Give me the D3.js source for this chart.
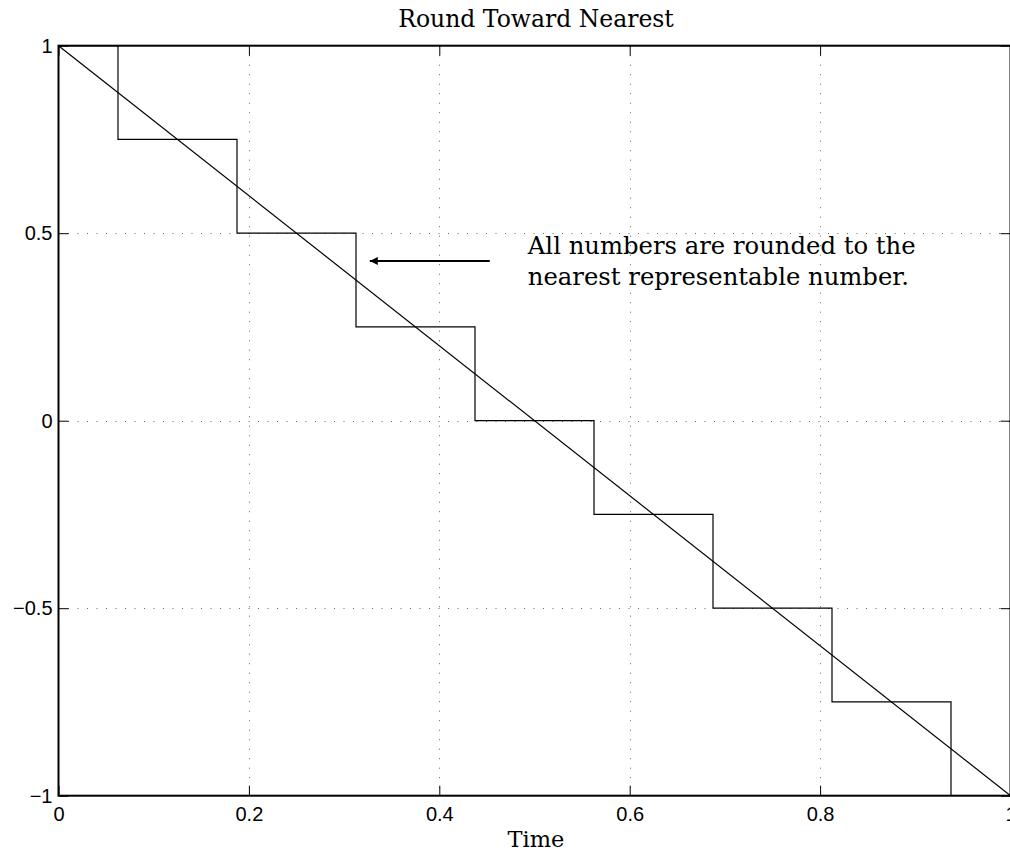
<!DOCTYPE html>
<html><head><meta charset="utf-8">
<script src="https://cdn.jsdelivr.net/npm/d3@7"></script>
<style>
html,body{margin:0;padding:0;background:#fff;}
svg{display:block;}
</style></head>
<body>
<svg id="chart" width="1010" height="854"></svg>
<script>
// ---- data ----
const stepEdges  = [0, 0.0625, 0.1875, 0.3125, 0.4375, 0.5625, 0.6875, 0.8125, 0.9375, 1.0];
const stepLevels = [1, 0.75, 0.5, 0.25, 0, -0.25, -0.5, -0.75, -1, -1];
const lineT = [0, 1];
const lineY = [1, -1];
const xTicks = [0, 0.2, 0.4, 0.6, 0.8, 1];
const yTicks = [-1, -0.5, 0, 0.5, 1];
const titleText = "Round Toward Nearest";
const xLabelText = "Time";
const noteLines = ["All numbers are rounded to the", "nearest representable number."];
const notePos = [0.493, 0.444];
const arrowFrom = [0.453, 0.426];
const arrowTo = [0.327, 0.426];

const svg = d3.select("#chart");
const x = d3.scaleLinear().domain([0, 1]).range([58.5, 1010.5]);
const y = d3.scaleLinear().domain([-1, 1]).range([795.7, 45.7]);
const fmt = d => (d < 0 ? "\u2212" : "") + Math.abs(d);

// grid
const grid = svg.append("g").attr("stroke", "#666").attr("stroke-width", 1).attr("stroke-dasharray", "1,8.5");
grid.selectAll("line.gx").data(xTicks.filter(d => d > 0 && d < 1)).join("line")
  .attr("x1", d => Math.round(x(d)) + 0.5).attr("x2", d => Math.round(x(d)) + 0.5)
  .attr("y1", y(1)).attr("y2", y(-1));
grid.selectAll("line.gy").data(yTicks.filter(d => d > -1 && d < 1)).join("line")
  .attr("y1", d => Math.round(y(d)) + 0.5).attr("y2", d => Math.round(y(d)) + 0.5)
  .attr("x1", x(0)).attr("x2", x(1));

// data lines
svg.append("defs").append("clipPath").attr("id", "clip").append("rect")
  .attr("x", x(0)).attr("y", y(1)).attr("width", x(1) - x(0)).attr("height", y(-1) - y(1));

const stepData = stepEdges.map((t, i) => [t, stepLevels[i]]);
svg.append("path").attr("clip-path", "url(#clip)")
  .attr("d", d3.line().x(d => x(d[0])).y(d => y(d[1])).curve(d3.curveStepAfter)(stepData))
  .attr("fill", "none").attr("stroke", "#000").attr("stroke-width", 1.2);

svg.append("path").attr("clip-path", "url(#clip)")
  .attr("d", d3.line().x(d => x(d[0])).y(d => y(d[1]))(lineT.map((t, i) => [t, lineY[i]])))
  .attr("fill", "none").attr("stroke", "#000").attr("stroke-width", 1.2);

// axes
const axisFont = "'Liberation Sans', Arial, sans-serif";
const xa = svg.append("g").attr("transform", `translate(0,${y(-1)})`)
  .call(d3.axisBottom(x).tickValues(xTicks).tickFormat(fmt).tickSizeInner(-10).tickSizeOuter(0).tickPadding(11));
const ya = svg.append("g").attr("transform", `translate(${x(0)},0)`)
  .call(d3.axisLeft(y).tickValues(yTicks).tickFormat(fmt).tickSizeInner(-10).tickSizeOuter(0).tickPadding(6));
const xt = svg.append("g").attr("transform", `translate(0,${y(1)})`)
  .call(d3.axisTop(x).tickValues(xTicks).tickFormat("").tickSizeInner(-10).tickSizeOuter(0));
const yr = svg.append("g").attr("transform", `translate(${x(1)},0)`)
  .call(d3.axisRight(y).tickValues(yTicks).tickFormat("").tickSizeInner(-10).tickSizeOuter(0));
[xa, ya, xt, yr].forEach(g => {
  g.select(".domain").remove();
  g.selectAll(".tick line").attr("stroke", "#000").attr("stroke-width", 1);
  g.selectAll("text").attr("font-family", axisFont).attr("font-size", 20).attr("fill", "#000");
});

// frame
svg.append("rect").attr("x", x(0)).attr("y", y(1)).attr("width", x(1) - x(0)).attr("height", y(-1) - y(1))
  .attr("fill", "none").attr("stroke", "#000").attr("stroke-width", 2);

// title & labels
const serif = "'DejaVu Serif', serif";
svg.append("text").attr("x", 536).attr("y", 27).attr("text-anchor", "middle")
  .attr("font-family", serif).attr("font-size", 23.5).text(titleText);
svg.append("text").attr("x", 536).attr("y", 847).attr("text-anchor", "middle")
  .attr("font-family", serif).attr("font-size", 22.5).text(xLabelText);

// annotation
const note = svg.append("text").attr("font-family", serif).attr("font-size", 24.3);
note.selectAll("tspan").data(noteLines).join("tspan")
  .attr("x", x(notePos[0])).attr("y", (d, i) => y(notePos[1]) + i * 31).text(d => d);

svg.select("defs").append("marker").attr("id", "ah").attr("viewBox", "0 0 10 10")
  .attr("refX", 10).attr("refY", 5).attr("markerWidth", 5).attr("markerHeight", 4)
  .attr("markerUnits", "strokeWidth").attr("orient", "auto")
  .append("path").attr("d", "M0,0 L10,5 L0,10 z").attr("fill", "#000");
svg.append("line").attr("x1", x(arrowFrom[0])).attr("y1", y(arrowFrom[1]))
  .attr("x2", x(arrowTo[0])).attr("y2", y(arrowTo[1]))
  .attr("stroke", "#000").attr("stroke-width", 2).attr("marker-end", "url(#ah)");
</script>
</body></html>
